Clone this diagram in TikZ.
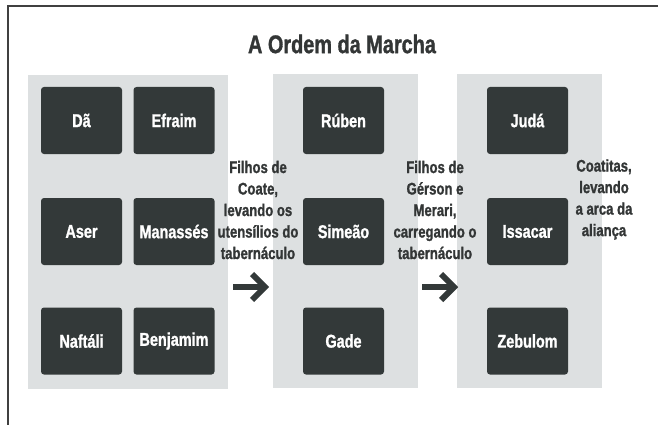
\documentclass[tikz,border=0pt]{standalone}
\usepackage{fontspec}
\newfontfamily\condfont{Liberation Sans}[UprightFont=* Bold, BoldFont=* Bold, FakeStretch=0.78, FakeBold=1.2]
\usepackage{tikz}
\usetikzlibrary{positioning}

\definecolor{caixa}{RGB}{51,57,57}
\definecolor{painel}{RGB}{221,224,225}
\definecolor{texto}{RGB}{51,54,54}

\begin{document}
\begin{tikzpicture}[x=1pt, y=-1pt,
  tribo/.style={rectangle, rounded corners=3pt, fill=caixa, text=white,
    minimum width=81pt, minimum height=67pt, inner sep=0pt,
    font=\condfont\fontsize{18.5}{22}\selectfont},
  legenda/.style={align=center, text=texto, inner sep=0pt,
    font=\condfont\fontsize{16.8}{21.5}\selectfont},
  seta/.style={draw=caixa, line width=6pt, line join=miter}]
\useasboundingbox (0,0) rectangle (658,425);
\draw [line width=2pt, black!75] (658,6) -- (8,6) -- (8,425);
\node [text=texto, font=\condfont\fontsize{25.5}{30}\selectfont] (titulo) at (342,44) {A Ordem da Marcha};
\begin{scope}
  \fill [painel] (28,75) rectangle (228,389);
  \node [tribo] (da) at (81.5,120.5) {Dã};
  \node [tribo] (efraim) at (174,120.5) {Efraim};
  \node [tribo] (aser) at (81.5,231.5) {Aser};
  \node [tribo] (manasses) at (174,231.5) {Manassés};
  \node [tribo] (naftali) at (81.5,341) {Naftáli};
  \node [tribo] (benjamim) at (174,341) {Benjamim};
\end{scope}
\begin{scope}
  \fill [painel] (273,74) rectangle (418,388);
  \node [tribo] (ruben) at (343.5,120.5) {Rúben};
  \node [tribo] (simeao) at (343.5,231.5) {Simeão};
  \node [tribo] (gade) at (343.5,341) {Gade};
\end{scope}
\begin{scope}
  \fill [painel] (457,74) rectangle (602,388);
  \node [tribo] (juda) at (527.5,120.5) {Judá};
  \node [tribo] (issacar) at (527.5,231.5) {Issacar};
  \node [tribo] (zebulom) at (527.5,341) {Zebulom};
\end{scope}
\node [legenda] (coate) at (258,210) {Filhos de\\Coate,\\levando os\\utensílios do\\tabernáculo};
\node [legenda] (gerson) at (435,210) {Filhos de\\Gérson e\\Merari,\\carregando o\\tabernáculo};
\node [legenda] (coatitas) at (604,199.5) {Coatitas,\\levando\\a arca da\\aliança};
\coordinate (seta1) at (233,287);
\coordinate (seta2) at (422,287);
\draw [seta] (seta1) -- ++(30,0);
\draw [seta] (seta1) ++(19,-13) -- ++(13,13) -- ++(-13,13);
\draw [seta] (seta2) -- ++(30,0);
\draw [seta] (seta2) ++(19,-13) -- ++(13,13) -- ++(-13,13);
\end{tikzpicture}
\end{document}
